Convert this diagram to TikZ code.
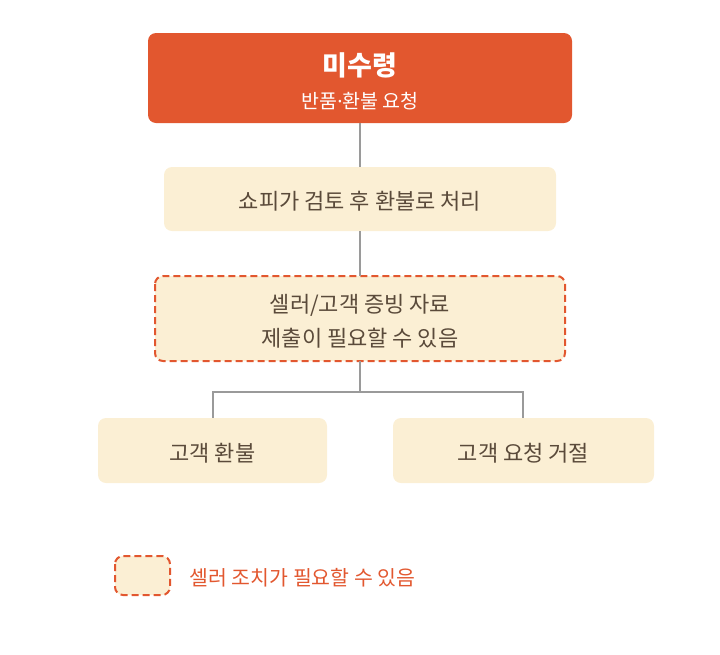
\documentclass[tikz,border=0pt]{standalone}
\usepackage{fontspec}
\setmainfont{Noto Sans CJK KR}
\newfontfamily\latinf{Noto Sans}
\definecolor{orangeM}{HTML}{E2572F}
\definecolor{creamM}{HTML}{FBEFD4}
\definecolor{textM}{HTML}{5A4A3A}
\definecolor{lineM}{HTML}{9A9A9A}
\begin{document}
\begin{tikzpicture}[x=1pt,y=-1pt,
  cream/.style={fill=creamM,rounded corners=8pt,draw=none},
  dashbox/.style={fill=creamM,rounded corners=8pt,draw=orangeM,line width=2pt,dash pattern=on 7pt off 4pt},
  lbl/.style={text=textM,font=\fontsize{22}{34}\selectfont,align=center},
  conn/.style={draw=lineM,line width=2pt}]
\useasboundingbox (0,0) rectangle (720,654);
\fill[orangeM,rounded corners=8pt] (148,33) rectangle (572,123);
\node[font=\fontsize{27}{30}\selectfont\bfseries,text=white] (t1) at (360,65) {미수령};
\node[font=\fontsize{19.5}{22}\selectfont,text=white] (t2) at (360,101) {반품{\latinf·}환불 요청};
\coordinate (topb) at (360,123);
\path[cream] (164,167) rectangle (556,231);
\node[lbl] (b2) at (360,201) {쇼피가 검토 후 환불로 처리};
\coordinate (b2t) at (360,167);
\coordinate (b2b) at (360,231);
\path[dashbox] (155,276) rectangle (565,361);
\node[lbl] (b3) at (360,321) {셀러/고객 증빙 자료\\제출이 필요할 수 있음};
\coordinate (b3t) at (360,276);
\coordinate (b3b) at (360,361);
\path[cream] (98,418) rectangle (327,483);
\node[lbl] (b4) at (212.5,453) {고객 환불};
\path[cream] (393,418) rectangle (654,483);
\node[lbl] (b5) at (523.5,453) {고객 요청 거절};
\coordinate (j) at (360,392);
\coordinate (b4t) at (213,418);
\coordinate (b5t) at (523,418);
\draw[conn] (topb) -- (b2t);
\draw[conn] (b2b) -- (b3t);
\draw[conn] (b3b) -- (j);
\draw[conn] (j) -| (b4t);
\draw[conn] (j) -| (b5t);
\path[dashbox] (115,556) rectangle (170,595);
\node[anchor=west,text=orangeM,font=\fontsize{20.5}{24}\selectfont] (leg) at (186,578) {셀러 조치가 필요할 수 있음};
\end{tikzpicture}
\end{document}
